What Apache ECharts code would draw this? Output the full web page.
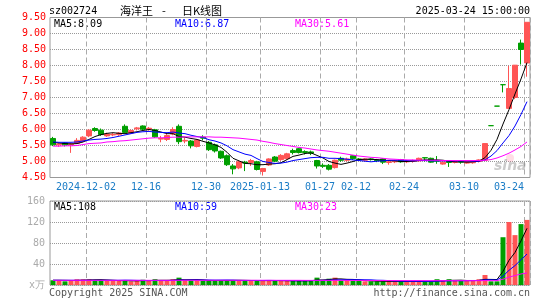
<!DOCTYPE html>
<html><head><meta charset="utf-8">
<script src="https://cdn.jsdelivr.net/npm/echarts@6/dist/echarts.min.js"></script>
<style>html,body{margin:0;padding:0;background:#fff;}#c{width:545px;height:300px;}</style>
</head><body><div id="c"></div>
<script>
const dates = ['2024-11-22','2024-11-25','2024-11-26','2024-11-27','2024-11-28','2024-11-29','2024-12-02','2024-12-03','2024-12-04','2024-12-05','2024-12-06','2024-12-09','2024-12-10','2024-12-11','2024-12-12','2024-12-13','2024-12-16','2024-12-17','2024-12-18','2024-12-19','2024-12-20','2024-12-23','2024-12-24','2024-12-25','2024-12-26','2024-12-27','2024-12-30','2024-12-31','2025-01-02','2025-01-03','2025-01-06','2025-01-07','2025-01-08','2025-01-09','2025-01-10','2025-01-13','2025-01-14','2025-01-15','2025-01-16','2025-01-17','2025-01-20','2025-01-21','2025-01-22','2025-01-23','2025-01-24','2025-01-27','2025-02-05','2025-02-06','2025-02-07','2025-02-10','2025-02-11','2025-02-12','2025-02-13','2025-02-14','2025-02-17','2025-02-18','2025-02-19','2025-02-20','2025-02-21','2025-02-24','2025-02-25','2025-02-26','2025-02-27','2025-02-28','2025-03-03','2025-03-04','2025-03-05','2025-03-06','2025-03-07','2025-03-10','2025-03-11','2025-03-12','2025-03-13','2025-03-14','2025-03-17','2025-03-18','2025-03-19','2025-03-20','2025-03-21','2025-03-24'];
const openP  = [5.72,5.52,5.58,5.52,5.57,5.64,5.80,6.03,5.98,5.80,5.83,5.84,6.10,5.89,6.02,6.11,6.01,5.99,5.70,5.69,5.86,6.10,5.64,5.64,5.47,5.76,5.60,5.52,5.32,5.18,4.86,4.80,4.98,4.97,4.99,4.69,4.89,5.14,5.06,5.09,5.34,5.40,5.31,5.30,5.03,4.88,4.88,4.81,5.10,5.04,5.18,5.08,5.04,5.08,5.05,5.08,4.97,4.99,5.06,4.99,5.00,5.02,5.12,5.10,5.03,4.92,5.00,4.97,5.00,4.95,4.96,5.00,5.04,6.12,6.73,7.40,6.66,7.00,8.70,8.08];
const closeP = [5.52,5.55,5.52,5.55,5.66,5.76,5.98,5.97,5.84,5.86,5.85,5.89,5.91,5.97,6.05,6.01,6.04,5.77,5.72,5.81,6.00,5.62,5.66,5.49,5.67,5.73,5.37,5.33,5.11,4.90,4.77,4.99,4.95,5.03,4.75,4.78,5.08,5.01,5.19,5.24,5.28,5.28,5.28,5.26,4.86,4.85,4.76,5.04,5.04,5.08,5.09,5.05,5.08,5.06,5.03,4.98,4.99,5.02,4.99,5.01,5.03,5.10,5.11,4.98,5.01,4.98,4.97,4.99,4.98,5.00,5.01,5.05,5.56,6.12,6.73,7.40,7.28,8.01,8.50,9.35];
const lowP   = [5.48,5.46,5.47,5.27,5.55,5.60,5.76,5.93,5.80,5.77,5.79,5.80,5.88,5.86,5.97,5.98,5.96,5.74,5.60,5.64,5.82,5.54,5.57,5.41,5.44,5.66,5.33,5.28,5.08,4.86,4.60,4.76,4.70,4.86,4.72,4.56,4.86,4.98,5.02,5.06,5.22,5.25,5.22,5.20,4.78,4.80,4.72,4.78,4.99,5.00,5.05,5.02,5.02,5.03,4.98,4.92,4.90,4.95,4.96,4.95,4.96,5.00,5.00,4.96,4.93,4.90,4.83,4.94,4.93,4.93,4.93,4.97,5.02,6.12,6.73,7.16,6.66,6.95,8.03,7.65];
const highP  = [5.77,5.58,5.60,5.58,5.73,5.79,6.00,6.07,6.03,5.90,5.89,5.92,6.16,6.00,6.08,6.13,6.08,6.02,5.80,5.86,6.07,6.16,5.74,5.67,5.70,5.82,5.64,5.56,5.34,5.22,4.92,5.02,5.02,5.08,5.02,4.80,5.10,5.17,5.23,5.27,5.40,5.42,5.35,5.34,5.05,4.94,4.92,5.06,5.15,5.12,5.20,5.11,5.10,5.10,5.08,5.10,5.02,5.05,5.08,5.05,5.06,5.12,5.13,5.12,5.17,5.00,5.02,5.01,5.03,5.02,5.03,5.07,5.56,6.12,6.73,7.40,7.99,8.01,8.81,9.35];
const ma5  = [5.60,5.58,5.56,5.55,5.56,5.61,5.69,5.78,5.84,5.88,5.90,5.88,5.87,5.90,5.93,5.97,6.00,5.97,5.92,5.87,5.87,5.78,5.76,5.72,5.69,5.63,5.58,5.52,5.44,5.29,5.10,5.02,4.94,4.93,4.90,4.90,4.92,4.93,4.96,5.06,5.16,5.20,5.25,5.27,5.19,5.11,5.00,4.95,4.91,4.95,5.00,5.06,5.07,5.07,5.06,5.04,5.03,5.02,5.00,5.00,5.01,5.03,5.05,5.05,5.05,5.04,5.01,4.99,4.99,4.98,4.99,5.01,5.12,5.35,5.69,6.17,6.62,7.11,7.58,8.09];
const ma10 = [5.61,5.60,5.60,5.60,5.61,5.64,5.67,5.69,5.70,5.72,5.75,5.79,5.83,5.87,5.91,5.93,5.94,5.92,5.91,5.90,5.92,5.89,5.87,5.82,5.78,5.75,5.68,5.64,5.58,5.49,5.37,5.30,5.23,5.19,5.09,5.00,4.97,4.94,4.95,4.98,5.03,5.06,5.09,5.12,5.13,5.13,5.10,5.10,5.09,5.07,5.05,5.03,5.01,4.99,5.01,5.02,5.04,5.04,5.04,5.03,5.02,5.03,5.03,5.02,5.02,5.02,5.02,5.02,5.02,5.02,5.01,5.01,5.05,5.17,5.34,5.58,5.81,6.11,6.47,6.87];
const ma30 = [5.48,5.48,5.49,5.49,5.50,5.53,5.56,5.57,5.58,5.61,5.62,5.64,5.65,5.67,5.69,5.71,5.73,5.74,5.74,5.75,5.76,5.76,5.77,5.77,5.77,5.77,5.77,5.76,5.76,5.75,5.74,5.73,5.71,5.69,5.67,5.63,5.60,5.56,5.53,5.50,5.47,5.44,5.42,5.39,5.36,5.34,5.32,5.29,5.26,5.23,5.20,5.17,5.15,5.13,5.12,5.10,5.08,5.07,5.06,5.05,5.05,5.04,5.04,5.04,5.04,5.03,5.03,5.03,5.03,5.03,5.03,5.03,5.04,5.06,5.11,5.18,5.26,5.36,5.47,5.61];
const volume = [9,8,7,8,11,11,11,9,9,8,8,8,9,7,8,10,8,11,8,8,11,14,9,9,9,8,8,9,9,9,9,9,8,8,9,8,9,8,8,8,8,8,8,9,14,9,12,14,9,10,8,8,7,7,7,7,7,7,7,7,7,7,7,7,11,8,11,8,8,8,8,11,19,7,7,91,120,95,116,124];
const vma5  = [9,9,8.8,8.6,8.6,9,9.6,10,10.2,9.6,9,8.4,8.4,8,8,8.4,8.4,8.8,9,9,9.2,10.4,10,10.2,10.4,9.8,8.6,8.6,8.6,8.6,8.8,9,8.8,8.6,8.6,8.4,8.4,8.4,8.4,8.2,8.2,8,8,8.2,9.4,9.6,10.4,11.6,11.6,10.8,10.6,9.8,8.4,8,7.4,7.2,7,7,7,7,7,7,7,7,7.8,8,8.8,9,9.2,8.6,8.6,8.6,10.8,10.6,10.4,26,47,62,84,108];
const vma10 = [9,9,9,9,9,9,9,9,9,9.1,9,9,9.2,9.1,8.8,8.7,8.4,8.6,8.5,8.5,8.8,9.4,9.4,9.6,9.7,9.5,9.5,9.3,9.4,9.5,9.3,8.8,8.7,8.6,8.6,8.6,8.7,8.6,8.5,8.4,8.3,8.2,8.2,8.3,8.8,8.9,9.2,9.8,9.9,10.1,10.1,10.1,10,9.8,9.1,8.9,8.4,7.7,7.5,7.2,7.1,7,7,7,7.4,7.5,7.9,8,8.1,8.2,8.3,8.7,9.9,9.9,9.5,17,28,37,48,59];
const vma30 = [8.9,8.9,8.9,8.9,8.9,8.9,8.9,8.9,8.9,8.9,8.9,8.9,8.9,8.9,8.9,8.9,8.9,8.9,8.9,8.9,8.9,9,9,9,9,9,9,9,9,9,9,9,9,9,9,9,9,8.9,8.9,8.9,8.9,8.9,8.8,8.8,8.8,8.8,8.8,8.8,8.8,8.8,8.7,8.7,8.7,8.6,8.6,8.6,8.5,8.5,8.5,8.4,8.4,8.4,8.3,8.3,8.3,8.3,8.3,8.3,8.3,8.3,8.3,8.3,8.4,8.3,8.3,11,15,18,21,23];
const tickDates  = ['2024-12-02','2024-12-16','2024-12-30','2025-01-13','2025-01-27','2025-02-12','2025-02-24','2025-03-10','2025-03-24'];
const tickLabels = ['2024-12-02','12-16','12-30','2025-01-13','01-27','02-12','02-24','03-10','03-24'];

const RED = '#ff5555', GREEN = '#009f00';
const MONO = '"DejaVu Sans Mono", "Liberation Mono", monospace';
const candleData = dates.map((d, i) => {
  const c = closeP[i] > openP[i] ? RED : GREEN;
  return {value: [openP[i], closeP[i], lowP[i], highP[i]], itemStyle: {color: c, color0: c, borderColor: c, borderColor0: c}};
});
const volData = dates.map((d, i) => ({value: volume[i], itemStyle: {color: closeP[i] > openP[i] ? RED : GREEN}}));
const isTick = (idx, val) => tickDates.indexOf(val) >= 0;

function line(data, color, xi, yi, z) {
  return {type: 'line', data: data, xAxisIndex: xi, yAxisIndex: yi, showSymbol: false, symbol: 'none', silent: true, z: z,
    lineStyle: {color: color, width: 1}, itemStyle: {color: color}};
}
function txt(x, y, text, color, align, font) {
  return {type: 'text', x: x, y: y, silent: true, style: {text: text, fill: color, align: align || 'left', verticalAlign: 'middle', font: font || ('10px ' + MONO)}};
}
const splitV = {show: true, interval: isTick, lineStyle: {color: '#aaa', type: [5, 3], width: 1}};
const dotted = {show: true, lineStyle: {color: '#999', type: [1, 1], width: 1}};
const chart = echarts.init(document.getElementById('c'), null, {renderer: 'canvas'});
chart.setOption({
  animation: false,
  backgroundColor: '#fff',
  grid: [
    {left: 50, top: 17.5, width: 480, height: 160, show: true, borderColor: '#999', borderWidth: 1, containLabel: false, outerBoundsMode: 'none'},
    {left: 50, top: 201, width: 480, height: 84, show: true, borderColor: '#999', borderWidth: 1, containLabel: false, outerBoundsMode: 'none'}
  ],
  xAxis: [
    {type: 'category', gridIndex: 0, data: dates, boundaryGap: true, axisLine: {show: false}, axisTick: {show: false},
     splitLine: splitV,
     axisLabel: {show: true, interval: isTick, margin: 5, color: '#1a7cc6', fontFamily: MONO, fontSize: 10,
       formatter: (val) => { const k = tickDates.indexOf(val); return (k === tickDates.length - 1 ? '{e|' : '{n|') + tickLabels[k] + '}'; },
       rich: {n: {padding: [0, 6, 0, 0], color: '#1a7cc6', fontFamily: MONO, fontSize: 10},
              e: {padding: [0, 36, 0, 0], color: '#1a7cc6', fontFamily: MONO, fontSize: 10}}}},
    {type: 'category', gridIndex: 1, data: dates, boundaryGap: true, axisLine: {show: false}, axisTick: {show: false},
     splitLine: splitV, axisLabel: {show: false}}
  ],
  yAxis: [
    {type: 'value', gridIndex: 0, min: 4.5, max: 9.5, interval: 0.5, axisLine: {show: false}, axisTick: {show: false},
     axisLabel: {color: '#ff0000', fontFamily: MONO, fontSize: 10, margin: 4, formatter: v => v.toFixed(2)},
     splitLine: dotted},
    {type: 'value', gridIndex: 1, min: 0, max: 160, interval: 40, axisLine: {show: false}, axisTick: {show: false},
     axisLabel: {color: '#aaa', fontFamily: MONO, fontSize: 10, margin: 5, formatter: v => v === 0 ? 'x万' : String(v)},
     splitLine: dotted}
  ],
  series: [
    {type: 'candlestick', xAxisIndex: 0, yAxisIndex: 0, data: candleData, barWidth: 5, z: 2, silent: true},
    line(ma5, '#000000', 0, 0, 3), line(ma10, '#0000ff', 0, 0, 4), line(ma30, '#ff00ff', 0, 0, 5),
    {type: 'bar', xAxisIndex: 1, yAxisIndex: 1, data: volData, barWidth: 5, z: 2, silent: true},
    line(vma5, '#000000', 1, 1, 3), line(vma10, '#0000ff', 1, 1, 4), line(vma30, '#ff00ff', 1, 1, 5)
  ],
  graphic: [
    txt(49, 11, 'sz002724', '#000'),
    txt(120, 11, '海洋王', '#000', 'left', '11px "Noto Sans CJK SC"'),
    txt(162, 11, '-', '#000', 'left', '11px "Noto Sans CJK SC"'),
    txt(182, 11, '日K线图', '#000', 'left', '11px "Noto Sans CJK SC"'),
    txt(530, 11.5, '2025-03-24 15:00:00', '#000', 'right'),
    txt(54, 24, 'MA5:8.09', '#000'),
    txt(175, 24, 'MA10:6.87', '#0000ff'),
    txt(295, 24, 'MA30:5.61', '#ff00ff'),
    txt(54, 207, 'MA5:108', '#000'),
    txt(175, 207, 'MA10:59', '#0000ff'),
    txt(295, 207, 'MA30:23', '#ff00ff'),
    txt(49, 293, 'Copyright 2025 SINA.COM', '#555'),
    txt(530, 293, 'http://finance.sina.com.cn', '#555', 'right'),
    {type: 'circle', silent: true, z: 1, shape: {cx: 510, cy: 158, r: 4}, style: {fill: 'rgba(255,120,150,0.25)'}},
    {type: 'text', x: 494, y: 166, silent: true, z: 1, style: {text: 'sina', fill: 'rgba(140,140,140,0.45)', verticalAlign: 'middle', font: 'italic bold 14px "DejaVu Sans"'}}
  ]
});
</script></body></html>
